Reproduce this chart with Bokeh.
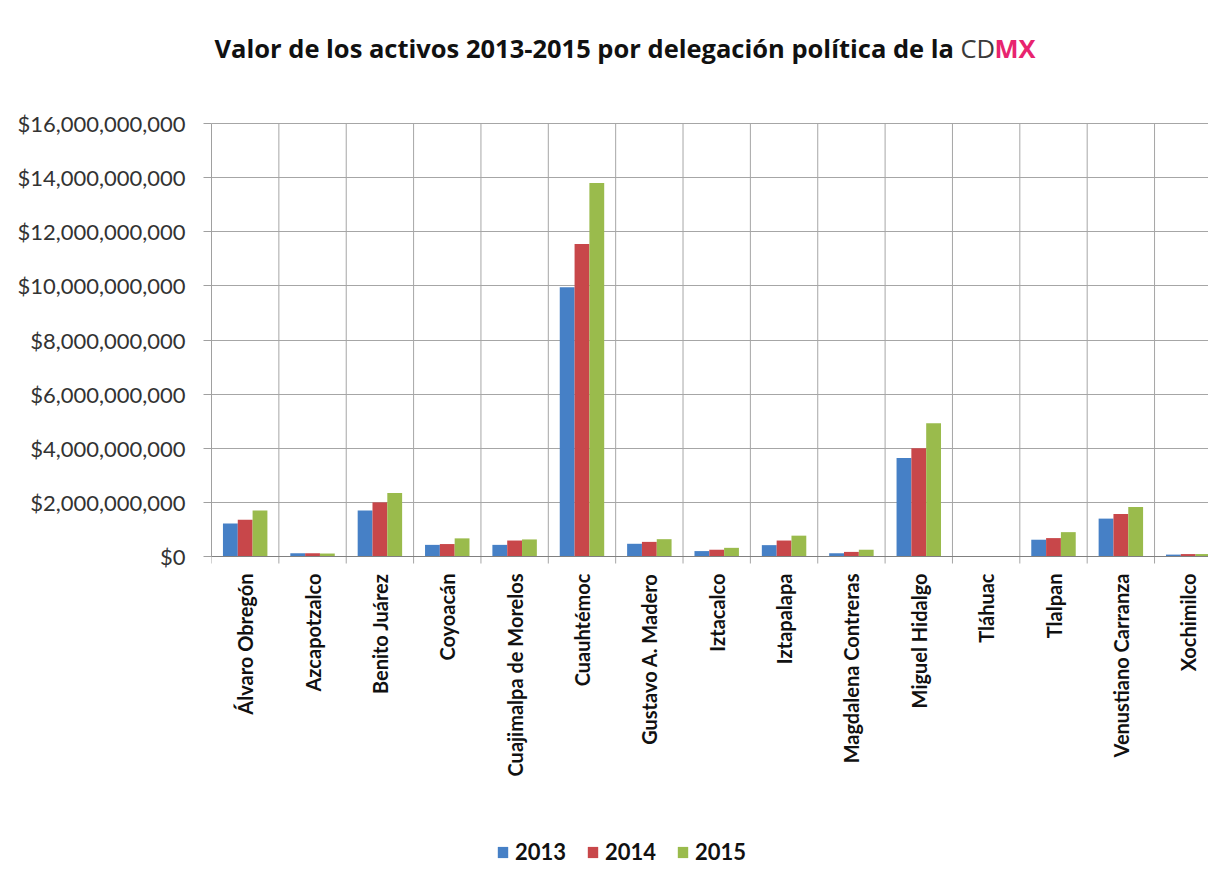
import math
from bokeh.plotting import figure
from bokeh.models import (Range1d, FixedTicker, NumeralTickFormatter, Legend,
                          LegendItem, Label, ColumnDataSource, Span)
from bokeh.core.properties import value
from bokeh.embed import file_html
from bokeh.resources import INLINE

# ---- data (values in pesos) ----
delegaciones = ["Álvaro Obregón", "Azcapotzalco", "Benito Juárez", "Coyoacán",
                "Cuajimalpa de Morelos", "Cuauhtémoc", "Gustavo A. Madero",
                "Iztacalco", "Iztapalapa", "Magdalena Contreras", "Miguel Hidalgo",
                "Tláhuac", "Tlalpan", "Venustiano Carranza", "Xochimilco"]
v2013 = [1.22e9, 0.12e9, 1.70e9, 0.43e9, 0.43e9, 9.95e9, 0.47e9, 0.20e9, 0.42e9,
         0.12e9, 3.64e9, 0.0, 0.62e9, 1.40e9, 0.07e9]
v2014 = [1.36e9, 0.12e9, 2.00e9, 0.46e9, 0.59e9, 11.55e9, 0.54e9, 0.25e9, 0.59e9,
         0.17e9, 4.00e9, 0.0, 0.68e9, 1.57e9, 0.09e9]
v2015 = [1.70e9, 0.11e9, 2.35e9, 0.67e9, 0.63e9, 13.80e9, 0.64e9, 0.32e9, 0.77e9,
         0.25e9, 4.92e9, 0.0, 0.90e9, 1.83e9, 0.09e9]
years = ["2013", "2014", "2015"]
y_ticks = [0, 2e9, 4e9, 6e9, 8e9, 10e9, 12e9, 14e9, 16e9]
title_main = "Valor de los activos 2013-2015 por delegación política de la"
title_cd = "CD"
title_mx = "MX"

colors = ["#4680c6", "#c8474a", "#9abb4c"]
FONT = "Lato"
TFONT = "Open Sans"

# ---- layout constants (pixels) ----
W, H = 1208, 888
LEFT = 211            # frame left edge
TOP_PX = 123          # pixel row of the top gridline
ZERO_PX = 556         # pixel row of the zero line
CAT_PX = 67.36        # width of one category
PX = (ZERO_PX - TOP_PX) / y_ticks[-1]   # pixels per peso
frame_w = W - LEFT

def ypix(row):
    """data value located at a given pixel row of the page"""
    return (ZERO_PX - row) / PX

def xpix(col):
    return (col - LEFT) / CAT_PX

p = figure(width=W, height=H, frame_width=frame_w, frame_height=H,
           x_range=Range1d(0, frame_w / CAT_PX),
           y_range=Range1d(ypix(H), ypix(0)),
           x_axis_location=None,
           output_backend="svg", toolbar_location=None,
           min_border_left=LEFT, min_border_right=0, min_border_top=0,
           min_border_bottom=0)
p.outline_line_color = None
p.background_fill_color = "white"
p.border_fill_color = "white"
p.xgrid.grid_line_color = None

n = len(delegaciones)
centers = [i + 0.5 for i in range(n)]
bounds = list(range(n + 1))

# horizontal gridlines
p.ygrid.ticker = FixedTicker(ticks=y_ticks)
p.ygrid.grid_line_color = "#a6a6a6"

# vertical gridlines between categories, ending in small ticks under zero
grid_src = ColumnDataSource(dict(x=bounds, y0=[-7 / PX] * len(bounds),
                                 y1=[y_ticks[-1]] * len(bounds)))
p.segment(x0="x", y0="y0", x1="x", y1="y1", source=grid_src,
          line_color="#a6a6a6", line_width=1)

series = [v2013, v2014, v2015]
offsets = [-0.22, 0.0, 0.22]
items = []
for vals, off, col, yr in zip(series, offsets, colors, years):
    src = ColumnDataSource(dict(x=[c + off for c in centers], top=vals))
    r = p.vbar(x="x", top="top", bottom=0, width=0.22, source=src,
               fill_color=col, line_color=None)
    items.append(LegendItem(label=yr, renderers=[r]))

# baseline
p.add_layout(Span(location=0, dimension="width", line_color="#808080",
                  line_width=1))

# category labels (rotated, hanging under the baseline)
lab_src = ColumnDataSource(dict(x=centers, y=[0] * n, text=delegaciones))
p.text(x="x", y="y", text="text", source=lab_src, angle=math.pi / 2,
       text_align="right", text_baseline="middle", y_offset=17,
       text_font=value(FONT), text_font_style="bold", text_font_size="20px",
       text_color="#111111")

# y axis
p.yaxis.ticker = FixedTicker(ticks=y_ticks)
p.yaxis.bounds = (0, y_ticks[-1])
p.yaxis.formatter = NumeralTickFormatter(format="$0,0")
p.yaxis.major_label_text_font = FONT
p.yaxis.major_label_text_font_size = "22px"
p.yaxis.major_label_text_color = "#333333"
p.yaxis.major_tick_out = 8
p.yaxis.major_tick_in = 0
p.yaxis.major_tick_line_color = "#a0a0a0"
p.yaxis.axis_line_color = "#a0a0a0"
p.yaxis.major_label_standoff = 18

# legend, inside the frame near the bottom
legend = Legend(items=items, orientation="horizontal", location=(285, 23),
                label_text_font=FONT, label_text_font_style="bold",
                label_text_font_size="22px", label_text_color="#111111",
                glyph_width=13, glyph_height=14, label_standoff=6, spacing=20,
                border_line_color=None, background_fill_alpha=0,
                margin=0, padding=0)
p.add_layout(legend)

# title pieces
ty = ypix(47)
p.add_layout(Label(x=xpix(214), y=ty, text=title_main, text_align="left",
                   text_baseline="alphabetic", text_font=TFONT,
                   text_font_style="bold", text_font_size="25.5px",
                   text_color="#111111"))
p.add_layout(Label(x=xpix(960), y=ty, text=title_cd, text_align="left",
                   text_baseline="alphabetic", text_font=TFONT,
                   text_font_size="25.5px", text_color="#3a3a3a"))
p.add_layout(Label(x=xpix(994), y=ty, text=title_mx, text_align="left",
                   text_baseline="alphabetic", text_font=TFONT,
                   text_font_style="bold", text_font_size="25.5px",
                   text_color="#e8246f"))

open("out.html", "w").write(file_html(p, INLINE))
